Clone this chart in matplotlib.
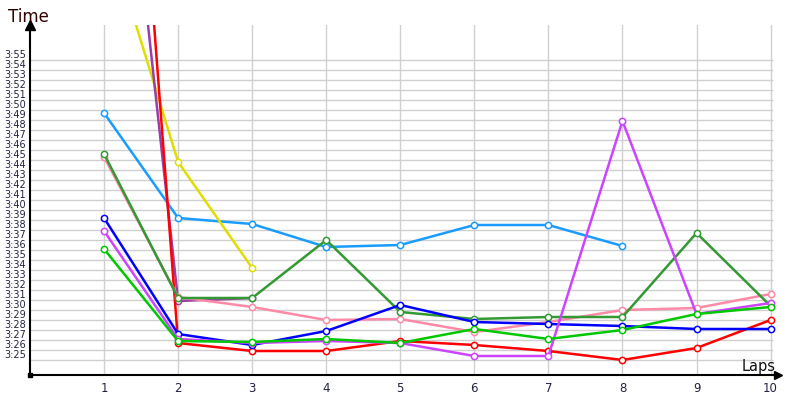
#!/usr/bin/env python3

import matplotlib
matplotlib.use('Agg')
import matplotlib.pyplot as plt
from matplotlib.ticker import FuncFormatter

# lap times in seconds
laps = list(range(1, 11))

light_blue = [229.7, 219.2, 218.6, 216.3, 216.5, 218.5, 218.5, 216.4]
yellow = [248.9, 224.8, 214.2]
red = [304.8, 206.7, 205.9, 205.9, 206.9, 206.5, 205.9, 205.0, 206.2, 209.0]
purple = [278.8, 210.9, 211.2]
pink = [225.3, 211.3, 210.3, 209.0, 209.1, 207.8, 208.8, 210.0, 210.2, 211.6]
dark_green = [225.6, 211.2, 211.2, 217.0, 209.8, 209.1, 209.3, 209.3, 217.7, 210.4]
blue = [219.2, 207.6, 206.5, 207.9, 210.5, 208.8, 208.6, 208.4, 208.1, 208.1]
violet = [217.9, 207.1, 206.7, 206.9, 206.7, 205.4, 205.4, 228.9, 209.6, 210.7]
green = [216.1, 206.9, 206.8, 207.1, 206.7, 208.1, 207.1, 208.0, 209.6, 210.3]

series = [
    (light_blue, '#1a9cff'),
    (yellow, '#dede00'),
    (purple, '#993fa8'),
    (red, '#ff0000'),
    (pink, '#ff8aa8'),
    (dark_green, '#339933'),
    (blue, '#0000ff'),
    (violet, '#cc44ff'),
    (green, '#00c800'),
]

y_ticks = list(range(205, 236))


def fmt(v, pos):
    v = int(round(v))
    return '{}:{:02d}'.format(v // 60, v % 60)


fig = plt.figure(figsize=(8, 4), dpi=100)
ax = fig.add_axes([0.0375, 0.0625, 0.935, 0.875])
ax.set_xlim(0, 10.1)
ax.set_ylim(203.5, 238.5)

# grid
ax.hlines(y_ticks, 0, 10.03, color='#d0d0d0', lw=1, zorder=0)
for x in laps:
    ax.axvline(x, color='#d0d0d0', lw=1, zorder=0)

for vals, col in series:
    ax.plot(laps[:len(vals)], vals, color=col, lw=1.8, marker='o', ms=4.5,
            mfc='white', mec=col, mew=1.1, zorder=3)

for s in ['top', 'right']:
    ax.spines[s].set_visible(False)
ax.spines['left'].set_linewidth(1.5)
ax.spines['bottom'].set_linewidth(1.5)

# axis arrows and origin square
ax.plot([1.0], [0], marker='>', color='black', ms=6, transform=ax.transAxes, clip_on=False)
ax.plot([0], [1.0], marker='^', color='black', ms=7, transform=ax.transAxes, clip_on=False)
ax.plot([0], [0], marker='s', color='black', ms=3, transform=ax.transAxes, clip_on=False)

ax.set_yticks(y_ticks)
ax.yaxis.set_major_formatter(FuncFormatter(fmt))
ax.set_xticks(laps)
ax.tick_params(axis='y', length=0, labelsize=7, pad=3, labelcolor='#222244')
ax.tick_params(axis='x', length=0, labelsize=8.5, pad=5, labelcolor='#222244')
for lbl in ax.get_yticklabels():
    lbl.set_verticalalignment('bottom')

fig.text(0.01, 0.958, 'Time', fontsize=12, color='#330000', ha='left', va='center')
fig.text(0.97, 0.085, 'Laps', fontsize=10.5, color='#111111', ha='right', va='center')

fig.savefig('out.png', dpi=100)
